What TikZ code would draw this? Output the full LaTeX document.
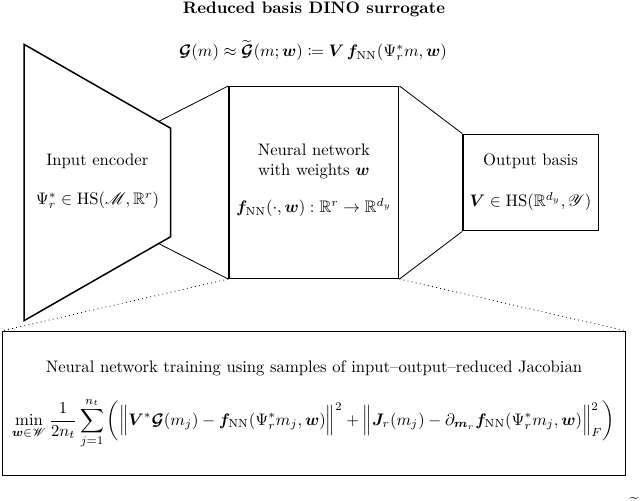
\documentclass[tikz,border=0pt]{standalone}
\usepackage{amsmath,amssymb,mathtools,bm,mathrsfs}
\begin{document}
\begin{tikzpicture}[x=0.6pt,y=-0.6pt,
  boxline/.style={line width=0.9pt},
  conn/.style={line width=0.5pt},
  dotconn/.style={line width=0.5pt,dotted},
  txt/.style={inner sep=0pt,anchor=center}]
\useasboundingbox (0,0) rectangle (640,501);
% shapes
\coordinate (etl) at (24,44.3);
\coordinate (etr) at (170.7,128.3);
\coordinate (ebr) at (170.7,236.7);
\coordinate (ebl) at (24,320.7);
\draw[boxline,line join=miter] (etl) -- (etr) -- (ebr) -- (ebl) -- cycle;
\coordinate (eu) at (158.7,121.4);
\coordinate (el) at (158.7,243.6);
\node[draw,boxline,minimum width=169.7*0.6pt,minimum height=191.6*0.6pt,inner sep=0pt] (nn) at (313.85,182.5) {};
\node[draw,boxline,minimum width=135.7*0.6pt,minimum height=96.4*0.6pt,inner sep=0pt] (ob) at (530.85,182.5) {};
\node[draw,boxline,minimum width=623.4*0.6pt,minimum height=144*0.6pt,inner sep=0pt] (tb) at (314,403.7) {};
\draw[conn] (eu) -- (nn.north west);
\draw[conn] (el) -- (nn.south west);
\draw[conn] (nn.north east) -- (ob.north west);
\draw[conn] (nn.south east) -- (ob.south west);
\draw[dotconn] (nn.south west) -- (tb.north west);
\draw[dotconn] (nn.south east) -- (tb.north east);
% texts
\node[txt] (title) at (314,9) {\textbf{Reduced basis DINO surrogate}};
\node[txt] (eq) at (313,50.5) {$\bm{\mathcal{G}}(m) \approx \widetilde{\bm{\mathcal{G}}}(m;\bm{w}) \coloneqq \bm{V}\,\bm{f}_{\mathrm{NN}}(\Psi_r^* m,\bm{w})$};
\node[txt] (e1) at (97.4,161.7) {Input encoder};
\node[txt] (e2) at (97.4,200) {$\Psi_r^* \in \mathrm{HS}(\mathscr{M},\mathbb{R}^r)$};
\node[txt,align=center] (n1) at (313.85,161.5) {Neural network\\with weights $\bm{w}$};
\node[txt] (n2) at (313.85,208) {$\bm{f}_{\mathrm{NN}}(\cdot,\bm{w}) : \mathbb{R}^r \to \mathbb{R}^{d_y}$};
\node[txt] (o1) at (530.5,161.7) {Output basis};
\node[txt] (o2) at (530.5,201.7) {$\bm{V} \in \mathrm{HS}(\mathbb{R}^{d_y},\mathscr{Y})$};
\node[txt] (t1) at (314,368.3) {Neural network training using samples of input--output--reduced Jacobian};
\node[txt] (t2) at (313.3,423) {$\displaystyle \min_{\bm{w}\in\mathscr{W}} \frac{1}{2n_t}\sum_{j=1}^{n_t}\bigg(\Big\|\bm{V}^*\bm{\mathcal{G}}(m_j) - \bm{f}_{\mathrm{NN}}(\Psi_r^* m_j,\bm{w})\Big\|^2 + \Big\|\bm{J}_r(m_j) - \partial_{\bm{m}_r}\bm{f}_{\mathrm{NN}}(\Psi_r^* m_j,\bm{w})\Big\|_F^2\bigg)$};
\begin{scope}
\clip (0,0) rectangle (640,501);
\node[txt] (tl) at (634,500) {\textasciitilde};
\end{scope}
\end{tikzpicture}
\end{document}
